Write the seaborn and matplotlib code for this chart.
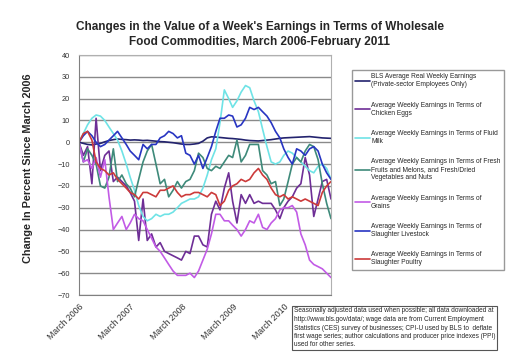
import pandas as pd
import seaborn as sns
import matplotlib.pyplot as plt

# monthly series, March 2006 - February 2011 (percent change since March 2006)
months = pd.date_range('2006-03-01', periods=60, freq='MS')

bls_real = [0, -0.5, -1, -1.2, -0.8, -0.5, 0.2, 0.8, 1.2, 1.5,
            1.3, 1.2, 1.0, 1.1, 1.0, 0.8, 0.9, 0.7, 0.5, 0.3,
            0.2, 0.0, -0.2, -0.5, -0.8, -1.0, -1.0, -0.8, -0.5, 0.5,
            2.0, 2.5, 2.4, 2.2, 2.0, 1.8, 1.7, 1.5, 1.3, 1.0,
            0.8, 0.7, 0.6, 0.8, 1.0, 1.2, 1.5, 1.8, 2.0, 2.1,
            2.2, 2.3, 2.4, 2.5, 2.6, 2.4, 2.2, 2.0, 1.9, 1.8]

eggs = [0, -6, -2, -19, 11, -13, -6, -4, -18, -16,
        -18, -20, -23, -27, -45, -26, -45, -42, -48, -46,
        -50, -51, -52, -53, -54, -50, -51, -43, -43, -47,
        -48, -33, -27, -31, -21, -14, -27, -37, -24, -28,
        -24, -28, -27, -28, -28, -28, -31, -35, -30, -27,
        -25, -21, -19, -7, -15, -34, -26, -18, -17, -26]

milk = [0, 4, 8, 11, 12.5, 12, 10, 7, 4, 1,
        -4, -10, -16, -22, -29, -34, -36, -35, -33, -34,
        -33, -33, -32, -30, -28, -27, -26, -26, -25, -21,
        -15, -8, -3, 9, 24, 20, 16, 19, 23, 26,
        25, 19, 14, 6, -2, -9, -10, -9, -6, -4,
        -5, -7, -9, -11, -13, -14, -11, -10, -12, -17]

fruits_veg = [0, -9, -3, -6, -10, -20, -21, -16, -3, -18,
              -15, -19, -21, -25, -17, -9, -4, -1, -10, -19,
              -17, -25, -22, -18, -21, -18, -17, -13, -5, -7,
              -12, -13, -11, -12, -9, -6, -7, 1, -9, -6,
              -1, -1, -1, -13, -15, -19, -18, -29, -26, -18,
              -10, -7, -9, -4, -1, -2, -8, -19, -28, -35]

grains = [0, -9, -8, -12, -7, -16, -8, -25, -40, -37,
          -34, -40, -37, -33, -35, -36, -40, -44, -48, -50,
          -53, -56, -59, -61, -61, -61, -60, -62, -59, -54,
          -49, -42, -33, -33, -36, -36, -38, -40, -43, -40,
          -36, -37, -33, -39, -40, -37, -35, -31, -30, -30,
          -29, -32, -42, -47, -54, -56, -57, -58, -60, -62]

livestock = [0, 3, 5, 3, 0, -2, -1, 1, 3, 5,
             2, -1, -4, -6, -8, -1, -3, -1, -1, 2,
             3, 5, 4, 2, 3, -5, -6, -10, -6, -12,
             -7, -2, 5, 11, 11, 12.5, 12, 7, 8, 11,
             16, 15, 16, 14, 12, 9, 5, 2, -3, -7,
             -10, -3, -4, -6, -3, -2, -4, -10, -14, -17]

poultry = [0, 4, 5, 1, -9, -12, -13, -15, -14, -17,
           -19, -21, -23, -24, -26, -23, -23, -24, -25, -22,
           -22, -21, -20, -23, -25, -24, -24, -23, -23, -24,
           -25, -23, -24, -29, -27, -22, -20, -19, -17, -18,
           -17, -14, -12, -15, -17, -21, -24, -25, -24, -26,
           -25, -26, -27, -26, -27, -28, -29, -23, -20, -18]

series_names = [
    'BLS Average Real Weekly Earnings\n(Private-sector Employees Only)',
    'Average Weekly Earnings in Terms of\nChicken Eggs',
    'Average Weekly Earnings in Terms of Fluid\nMilk',
    'Average Weekly Earnings in Terms of Fresh\nFruits and Melons, and Fresh/Dried\nVegetables and Nuts',
    'Average Weekly Earnings in Terms of\nGrains',
    'Average Weekly Earnings in Terms of\nSlaughter Livestock',
    'Average Weekly Earnings in Terms of\nSlaughter Poultry',
]
series_values = [bls_real, eggs, milk, fruits_veg, grains, livestock, poultry]
series_colors = ['#23236E', '#6E2E96', '#6FE3E6', '#3E8A7A', '#C25BE6', '#2835C2', '#CC3A3A']

year_ticks = pd.to_datetime(['2006-03-01', '2007-03-01', '2008-03-01', '2009-03-01', '2010-03-01'])
year_labels = ['March 2006', 'March 2007', 'March 2008', 'March 2009', 'March 2010']

note = ('Seasonally adjusted data used when possible; all data downloaded at\n'
        'http://www.bls.gov/data/; wage data are from Current Employment\n'
        'Statistics (CES) survey of businesses; CPI-U used by BLS to  deflate\n'
        'first wage series; author calculations and producer price indexes (PPI)\n'
        'used for other series.')

#%%
frames = []
for name, vals in zip(series_names, series_values):
    frames.append(pd.DataFrame({'Month': months, 'Change': vals, 'Series': name}))
df = pd.concat(frames, ignore_index=True)

sns.set_style('white')
plt.rcParams['font.family'] = ['Liberation Sans', 'DejaVu Sans']

fig = plt.figure(figsize=(5.19, 3.61), dpi=100)
ax = fig.add_axes([79 / 519, 1 - 295 / 361, 252 / 519, 240 / 361])

sns.lineplot(data=df, x='Month', y='Change', hue='Series', hue_order=series_names,
             palette=dict(zip(series_names, series_colors)), linewidth=1.2, ax=ax)

ax.set_xlim(months[0], months[-1])
ax.set_ylim(-70, 40)
ax.set_yticks(range(-70, 41, 10))
ax.yaxis.grid(True, color='#8A8A8A', linewidth=1.0)
ax.set_axisbelow(True)
ax.set_xticks(year_ticks)
ax.set_xticklabels(year_labels, rotation=45, ha='right', rotation_mode='anchor', fontsize=6.3)
ax.tick_params(axis='y', labelsize=5.3, colors='#333333', length=3, width=0.8)
ax.tick_params(axis='x', colors='#333333', length=3, width=0.8, pad=2)
ax.set_xlabel('')
ax.set_ylabel('')
for side in ['left', 'bottom']:
    ax.spines[side].set_color('#808080')
for side in ['top', 'right']:
    ax.spines[side].set_color('#B0B0B0')

handles, labels = ax.get_legend_handles_labels()
ax.legend(handles, labels, loc='upper left', bbox_to_anchor=(352 / 519, 1 - 70 / 361),
          bbox_transform=fig.transFigure, fontsize=4.8, frameon=True, fancybox=False,
          edgecolor='#808080', handlelength=2.2, handletextpad=0.15, labelspacing=2.0,
          borderpad=0.5, borderaxespad=0)

fig.text(0.5, 1 - 34.5 / 361, "Changes in the Value of a Week's Earnings in Terms of Wholesale\n"
         "Food Commodities, March 2006-February 2011",
         ha='center', va='center', fontsize=8.5, fontweight='bold', linespacing=1.25)
fig.text(28 / 519, 1 - 168 / 361, 'Change In Percent Since March 2006', rotation=90,
         ha='center', va='center', fontsize=7.8, fontweight='bold')
fig.text(294 / 519, 1 - 307.5 / 361, note, ha='left', va='top', fontsize=4.7, linespacing=1.3,
         bbox=dict(boxstyle='square,pad=0.3', fc='white', ec='#555555', lw=0.8))

fig.savefig('out.png', dpi=100)
